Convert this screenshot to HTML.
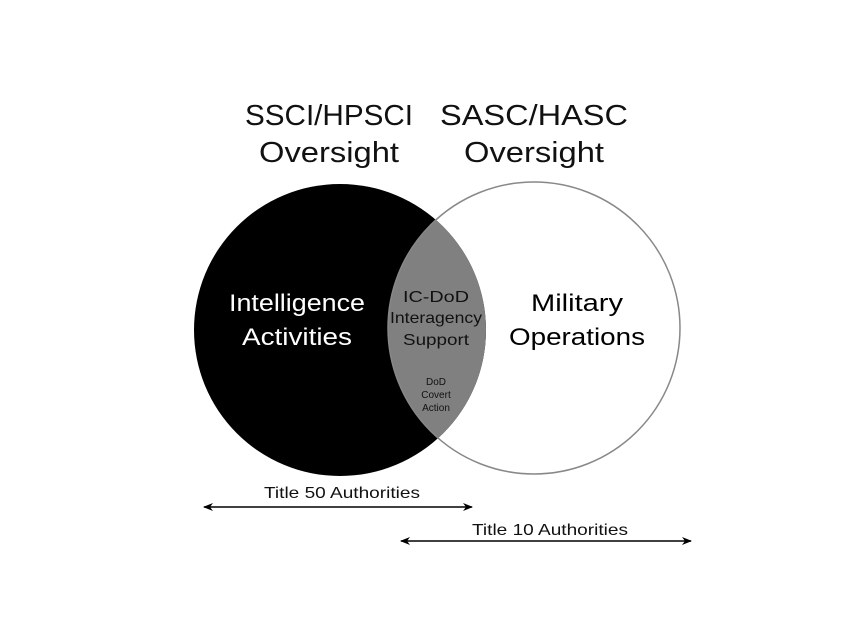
<!DOCTYPE html>
<html><head><meta charset="utf-8"><style>html,body{margin:0;padding:0;background:#fff}svg{display:block}</style></head>
<body>
<svg width="850" height="638" viewBox="0 0 850 638" xmlns="http://www.w3.org/2000/svg" font-family="Liberation Sans, sans-serif">
<defs>
<clipPath id="c"><circle cx="340" cy="330" r="146"/></clipPath>
<marker id="a" markerWidth="10" markerHeight="8" refX="9" refY="4" orient="auto-start-reverse" markerUnits="userSpaceOnUse"><path d="M0,0 L10,4 L0,8 L3,4 Z" fill="#000"/></marker>
</defs>
<circle cx="340" cy="330" r="146" fill="#000"/>
<circle cx="534" cy="328" r="146" fill="#808080" clip-path="url(#c)"/>
<path d="M0 0" />
<circle cx="534" cy="328" r="146" fill="none" stroke="#888" stroke-width="1.5"/>
<g font-size="29" text-anchor="middle" fill="#111">
<text x="329" y="125" textLength="168" lengthAdjust="spacingAndGlyphs">SSCI/HPSCI</text>
<text x="329" y="162" textLength="140" lengthAdjust="spacingAndGlyphs">Oversight</text>
<text x="534" y="125" textLength="188" lengthAdjust="spacingAndGlyphs">SASC/HASC</text>
<text x="534" y="162" textLength="140" lengthAdjust="spacingAndGlyphs">Oversight</text>
</g>
<g font-size="24" text-anchor="middle">
<text x="297" y="311" fill="#fff" textLength="136" lengthAdjust="spacingAndGlyphs">Intelligence</text>
<text x="297" y="345" fill="#fff" textLength="110" lengthAdjust="spacingAndGlyphs">Activities</text>
<text x="577" y="311" fill="#000" textLength="92" lengthAdjust="spacingAndGlyphs">Military</text>
<text x="577" y="345" fill="#000" textLength="136" lengthAdjust="spacingAndGlyphs">Operations</text>
</g>
<g font-size="16" text-anchor="middle" fill="#111">
<text x="436" y="302" textLength="66" lengthAdjust="spacingAndGlyphs">IC-DoD</text>
<text x="436" y="323" textLength="92" lengthAdjust="spacingAndGlyphs">Interagency</text>
<text x="436" y="345" textLength="66" lengthAdjust="spacingAndGlyphs">Support</text>
</g>
<g font-size="10" text-anchor="middle" fill="#111">
<text x="436" y="385">DoD</text>
<text x="436" y="398">Covert</text>
<text x="436" y="411">Action</text>
</g>
<g font-size="16" text-anchor="middle" fill="#111">
<text x="342" y="498" textLength="156" lengthAdjust="spacingAndGlyphs">Title 50 Authorities</text>
<text x="550" y="535" textLength="156" lengthAdjust="spacingAndGlyphs">Title 10 Authorities</text>
</g>
<line x1="204" y1="507" x2="472" y2="507" stroke="#000" stroke-width="1.5" marker-start="url(#a)" marker-end="url(#a)"/>
<line x1="401" y1="541" x2="691" y2="541" stroke="#000" stroke-width="1.5" marker-start="url(#a)" marker-end="url(#a)"/>
</svg>
</body></html>
